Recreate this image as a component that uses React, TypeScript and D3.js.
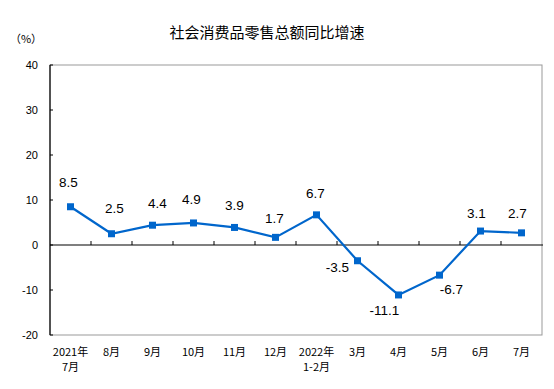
import React from 'react';
import * as d3 from 'd3';

const categories = ['2021年\n7月', '8月', '9月', '10月', '11月', '12月', '2022年\n1-2月', '3月', '4月', '5月', '6月', '7月'];
const growth = [8.5, 2.5, 4.4, 4.9, 3.9, 1.7, 6.7, -3.5, -11.1, -6.7, 3.1, 2.7];
const yTicks = [-20, -10, 0, 10, 20, 30, 40];
const title = '社会消费品零售总额同比增速';
const unit = '（%）';

// label nudges (px) relative to each point
const labelDx = [-2, 3, 5, -2, 0, -1, -1, -20, -14, 12, -4, -4];
const labelDy = [-20, -21, -17, -19, -17, -14, -17, 11, 20, 19, -13, -15];

const width = 554;
const height = 389;
const margin = { top: 65, right: 12, bottom: 54, left: 50 };
const blue = '#0066cc';

export default function App() {
  const x = d3.scaleBand<string>()
    .domain(categories)
    .range([margin.left, width - margin.right]);
  const y = d3.scaleLinear()
    .domain([-20, 40])
    .range([height - margin.bottom, margin.top]);

  const cx = (i: number) => (x(categories[i]) as number) + x.bandwidth() / 2;

  const line = d3.line<number>()
    .x((d, i) => cx(i))
    .y(d => y(d));

  const x0 = margin.left;
  const x1 = width - margin.right;
  const yTop = margin.top;
  const yBot = height - margin.bottom;
  const yZero = y(0);

  return (
    <svg width={width} height={height}
         style={{ position: 'absolute', left: 0, top: 0, background: '#fff' }}>
      <text x={267} y={38} textAnchor="middle" fontSize={15}
            fontFamily="'Noto Sans CJK SC', sans-serif" fill="#000">{title}</text>
      <text x={26} y={43} textAnchor="middle" fontSize={11}
            fontFamily="'Noto Sans CJK SC', sans-serif" fill="#000">{unit}</text>

      {/* plot frame */}
      <rect x={x0} y={yTop} width={x1 - x0} height={yBot - yTop}
            fill="none" stroke="#999" strokeWidth={1} />
      <line x1={x0} x2={x0} y1={yTop} y2={yBot} stroke="#000" strokeWidth={1.2} />

      {yTicks.map(t => (
        <g key={t}>
          <line x1={x0} x2={x0 + 3} y1={y(t)} y2={y(t)} stroke="#000" />
          <text x={38} y={y(t)} dy="0.35em" textAnchor="end" fontSize={11}
                fontFamily="'Liberation Sans', Arial, sans-serif" fill="#000">{t}</text>
        </g>
      ))}

      {/* zero axis with category ticks */}
      <line x1={x0} x2={x1 + 1} y1={yZero} y2={yZero} stroke="#000" strokeWidth={1.2} />
      {categories.slice(1).map(c => (
        <line key={c} x1={x(c)} x2={x(c)} y1={yZero} y2={yZero - 4} stroke="#000" />
      ))}

      {categories.map((c, i) => {
        const lines = c.split('\n');
        return (
          <text key={c} x={cx(i)} y={356} textAnchor="middle" fontSize={11}
                fontFamily="'Noto Sans CJK SC', sans-serif" fill="#000">
            {lines.map((l, j) => (
              <tspan key={j} x={cx(i)} dy={j === 0 ? 0 : 15}>{l}</tspan>
            ))}
          </text>
        );
      })}

      <path d={line(growth) || ''} fill="none" stroke={blue} strokeWidth={2.2} />
      {growth.map((v, i) => (
        <rect key={i} x={cx(i) - 3.5} y={y(v) - 3.5} width={7} height={7} fill={blue} />
      ))}

      {growth.map((v, i) => (
        <text key={i} x={cx(i) + labelDx[i]} y={y(v) + labelDy[i]} textAnchor="middle"
              fontSize={13.5} fontFamily="'Liberation Sans', Arial, sans-serif" fill="#000">
          {v.toFixed(1)}
        </text>
      ))}
    </svg>
  );
}
